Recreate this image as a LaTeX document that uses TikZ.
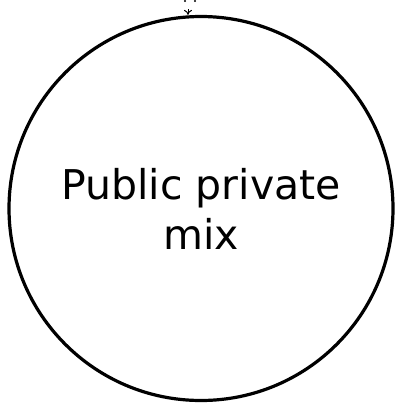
\documentclass[tikz,border=0pt]{standalone}
\usepackage{fontspec}
\setmainfont{DejaVu Sans}
\usetikzlibrary{arrows.meta}

\begin{document}
\begin{tikzpicture}[x=1pt, y=-1pt, >={To[length=5pt,width=8pt]},
  every node/.style={font=\fontsize{41}{50}\selectfont}]
  \useasboundingbox (0,0) rectangle (398,405);
  \node[draw, circle, line width=3.2pt, minimum size=384pt, inner sep=0pt,
    align=center] (mix) at (201,208.5) {Public private\\mix};
  \coordinate (top) at (188,9);
  \draw[->, line width=1pt] (top) -- (mix.north -| top);
  \fill (185,1) circle (1.2pt) (195,1) circle (1.2pt);
\end{tikzpicture}
\end{document}
